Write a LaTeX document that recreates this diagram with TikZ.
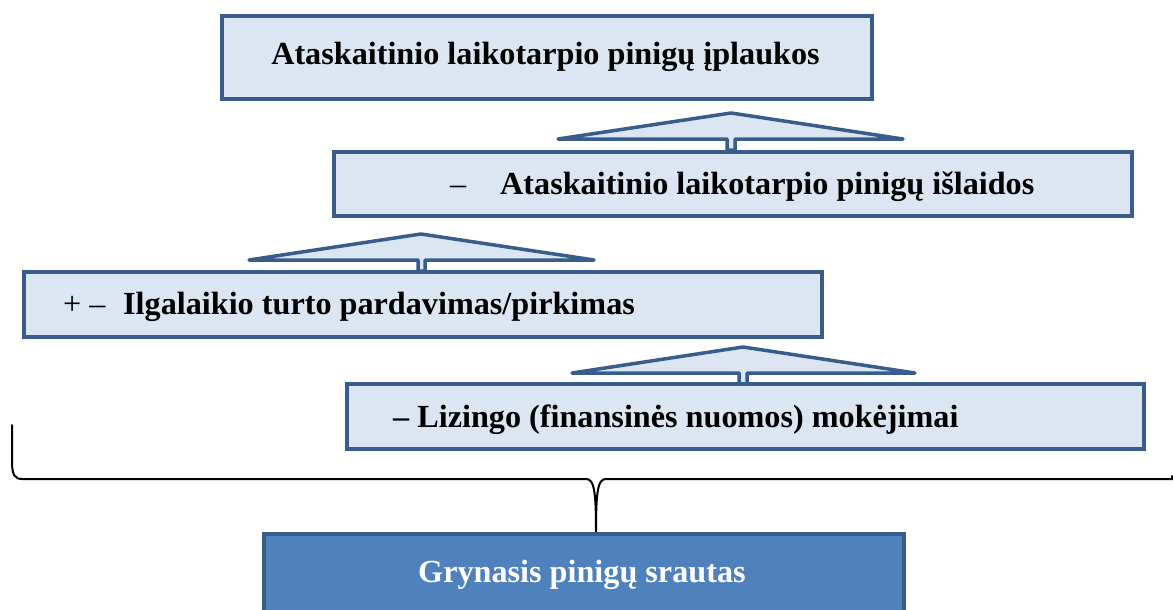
\documentclass[tikz,border=0pt]{standalone}
\usepackage{fontspec}
\setmainfont{Liberation Serif}
\definecolor{boxfill}{HTML}{DCE6F2}
\definecolor{boxline}{HTML}{385D8A}
\definecolor{darkfill}{HTML}{4F81BD}
\begin{document}
\begin{tikzpicture}[x=1pt,y=-1pt,
  box/.style={draw=boxline,fill=boxfill,line width=4pt,rectangle,inner sep=0pt,anchor=north west},
  darkbox/.style={box,fill=darkfill},
  upshape/.style={draw=boxline,fill=boxfill,line width=3.5pt,line join=round,line cap=round},
  lbl/.style={anchor=base west,inner sep=0pt,font=\fontsize{32.2}{38}\selectfont\bfseries},
  sym/.style={anchor=base west,inner sep=0pt,font=\fontsize{32.2}{38}\selectfont},
  brace/.style={draw=black,line width=2pt}]
\useasboundingbox (0,0) rectangle (1173,610);
\clip (0,0) rectangle (1173,610);
% arrows (up shapes)
\draw[upshape] (558,139) -- (731,113) -- (903,139) -- (735,139) -- (735,150) -- (727,150) -- (727,139) -- cycle;
\draw[upshape] (249,260) -- (421,234) -- (594,260) -- (425,260) -- (425,271) -- (418,271) -- (418,260) -- cycle;
\draw[upshape] (572,373) -- (743,347) -- (915,373) -- (747,373) -- (747,384) -- (739,384) -- (739,373) -- cycle;
% boxes
\node[box,minimum width=650pt,minimum height=83pt] (b1) at (220,14) {};
\node[box,minimum width=798pt,minimum height=64pt] (b2) at (332,150) {};
\node[box,minimum width=798pt,minimum height=65pt] (b3) at (22,270) {};
\node[box,minimum width=797pt,minimum height=65pt] (b4) at (345,382) {};
\node[darkbox,minimum width=640pt,minimum height=90pt] (b5) at (262,532) {};
% texts
\node[lbl,anchor=base] (t1) at (545.5,65) {Ataskaitinio laikotarpio pinigų įplaukos};
\node[sym] (s2) at (450,194) {–};
\node[lbl] (t2) at (500,194) {Ataskaitinio laikotarpio pinigų išlaidos};
\node[sym] (s3) at (63,314) {+ –};
\node[lbl] (t3) at (123,314) {Ilgalaikio turto pardavimas/pirkimas};
\node[lbl] (t4) at (393,427) {– Lizingo (finansinės nuomos) mokėjimai};
\node[lbl,text=white] (t5) at (418,582) {Grynasis pinigų srautas};
% brace
\coordinate (bl) at (12,425);
\coordinate (br) at (1172,476);
\coordinate (tip) at (596,532);
\draw[brace,line cap=round] (bl) -- (12,462) .. controls (12,475) and (15,479) .. (22,479) -- (586,479) .. controls (594,479) and (596,490) .. (tip)
  .. controls (596,490) and (598,479) .. (606,479) -- (1172,479) -- (br);
\end{tikzpicture}
\end{document}
